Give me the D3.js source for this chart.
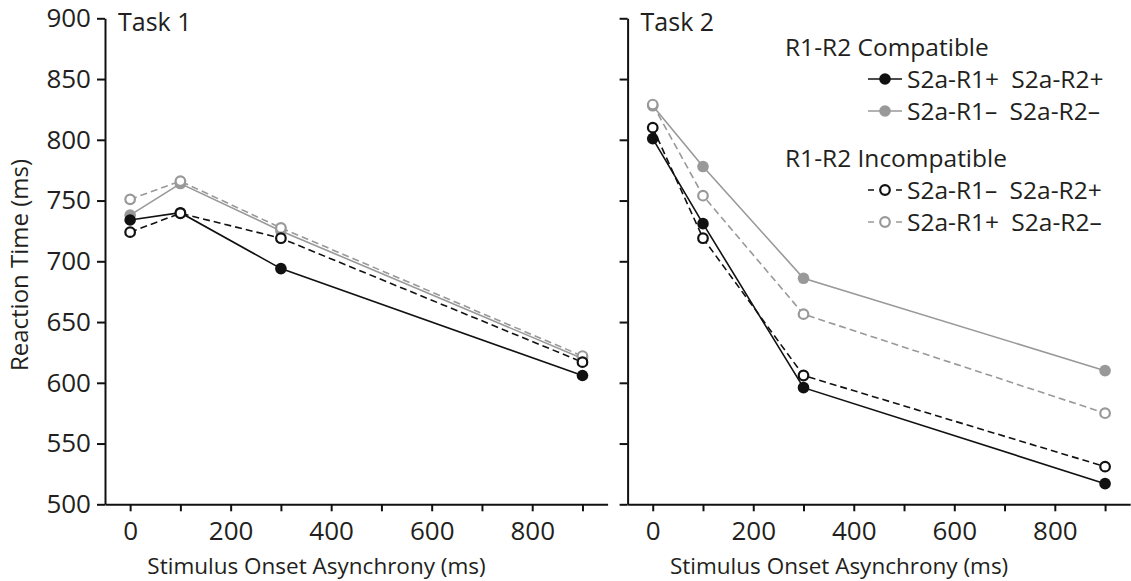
<!DOCTYPE html>
<html>
<head>
<meta charset="utf-8">
<script src="https://cdn.jsdelivr.net/npm/d3@7"></script>
<style>
  html, body { margin: 0; padding: 0; background: #fff; }
  svg { display: block; }
  text { font-family: "Open Sans", "Noto Sans", sans-serif; fill: #231f20; }
</style>
</head>
<body>
<svg id="chart" width="1131" height="581"></svg>
<script>
// Stimulus onset asynchronies (ms)
const soa = [0, 100, 300, 900];
const xTicks = [0, 100, 200, 300, 400, 500, 600, 700, 800, 900];
const xTickLabels = ["0", "", "200", "", "400", "", "600", "", "800", ""];
const yTicks = [500, 550, 600, 650, 700, 750, 800, 850, 900];

const panelTitles = ["Task 1", "Task 2"];

// Mean reaction times (ms), Task 1
const t1CompatPlus    = [734, 740, 694, 606];   // S2a-R1+ S2a-R2+
const t1CompatMinus   = [738, 764, 725, 620];   // S2a-R1- S2a-R2-
const t1IncompR1Minus = [724, 739.5, 719, 617]; // S2a-R1- S2a-R2+
const t1IncompR1Plus  = [751, 766, 727.5, 622]; // S2a-R1+ S2a-R2-

// Mean reaction times (ms), Task 2
const t2CompatPlus    = [801, 731, 596, 517];
const t2CompatMinus   = [828, 778, 686, 610];
const t2IncompR1Minus = [810, 719, 606, 531];
const t2IncompR1Plus  = [829, 754, 656.5, 575];

const seriesNames = ["S2a-R1+\u2002S2a-R2+", "S2a-R1\u2013\u2002S2a-R2\u2013",
                     "S2a-R1\u2013\u2002S2a-R2+", "S2a-R1+\u2002S2a-R2\u2013"];
const legendHeadings = ["R1-R2 Compatible", "R1-R2 Incompatible"];

const BLACK = "#111";
const GRAY = "#999";

// series style: colour, filled marker, dashed line
const styles = [
  { color: BLACK, filled: true,  dashed: false },
  { color: GRAY,  filled: true,  dashed: false },
  { color: BLACK, filled: false, dashed: true },
  { color: GRAY,  filled: false, dashed: true }
];

const panels = [
  { title: panelTitles[0], series: [t1CompatPlus, t1CompatMinus, t1IncompR1Minus, t1IncompR1Plus], left: 105, labels: true },
  { title: panelTitles[1], series: [t2CompatPlus, t2CompatMinus, t2IncompR1Minus, t2IncompR1Plus], left: 627.6, labels: false }
];

const svg = d3.select("#chart");
const plotTop = 18.3, plotBottom = 504.3, panelWidth = 502.6;

const y = d3.scaleLinear().domain([500, 900]).range([plotBottom, plotTop]);

// draw order: filled markers first, open markers on top
const drawOrder = [1, 0, 3, 2];

panels.forEach(p => {
  const x = d3.scaleLinear().domain([-50, 950]).range([p.left, p.left + panelWidth]);
  const g = svg.append("g");

  // y axis
  const yAxis = d3.axisLeft(y).tickValues(yTicks).tickSize(8).tickSizeOuter(0)
    .tickFormat(p.labels ? d3.format("d") : () => "").tickPadding(6);
  const ya = g.append("g").attr("transform", `translate(${p.left},0)`).call(yAxis);

  // x axis
  const xAxis = d3.axisBottom(x).tickValues(xTicks).tickSize(7).tickSizeOuter(0)
    .tickFormat((d, i) => xTickLabels[i]).tickPadding(10);
  const xa = g.append("g").attr("transform", `translate(0,${plotBottom})`).call(xAxis);

  [ya, xa].forEach(a => {
    a.selectAll("path.domain").attr("stroke", BLACK).attr("stroke-width", 2);
    a.selectAll(".tick line").attr("stroke", BLACK).attr("stroke-width", 2);
    a.selectAll(".tick text").style("font-size", "26px").attr("fill", "#231f20")
      .style("font-family", "'Open Sans', sans-serif");
  });

  // panel title
  g.append("text").attr("x", p.left + 13).attr("y", 31)
    .style("font-size", "25px").text(p.title);

  // x axis title
  g.append("text").attr("x", p.left + 211.5).attr("y", 574)
    .attr("text-anchor", "middle").style("font-size", "22.5px")
    .text("Stimulus Onset Asynchrony (ms)");

  const line = d3.line().x((d, i) => x(soa[i])).y(d => y(d));

  drawOrder.forEach(si => {
    const s = styles[si];
    const vals = p.series[si];
    g.append("path").datum(vals)
      .attr("d", line).attr("fill", "none")
      .attr("stroke", s.color).attr("stroke-width", 1.6)
      .attr("stroke-dasharray", s.dashed ? "7,4" : null);
  });
  drawOrder.forEach(si => {
    const s = styles[si];
    const vals = p.series[si];
    g.selectAll(null).data(vals).enter().append("circle")
      .attr("cx", (d, i) => x(soa[i])).attr("cy", d => y(d))
      .attr("r", s.filled ? 5.8 : 4.8)
      .attr("fill", s.filled ? s.color : "#fff")
      .attr("stroke", s.color).attr("stroke-width", s.filled ? 0 : 2.2);
  });
});

// y axis title
svg.append("text")
  .attr("transform", "translate(28,265) rotate(-90)")
  .attr("text-anchor", "middle").style("font-size", "24px")
  .text("Reaction Time (ms)");

// legend
const legend = svg.append("g");
const rowY = [79, 111, 190, 222];
const headY = [47, 158];
legendHeadings.forEach((h, i) => {
  legend.append("text").attr("x", 785).attr("y", headY[i]).attr("dy", "0.36em")
    .style("font-size", "24.5px").text(h);
});
styles.forEach((s, i) => {
  const r = legend.append("g").attr("transform", `translate(0,${rowY[i]})`);
  r.append("line").attr("x1", 868).attr("x2", 902).attr("y1", 0).attr("y2", 0)
    .attr("stroke", s.color).attr("stroke-width", 1.6)
    .attr("stroke-dasharray", s.dashed ? "6,22,6" : null);
  r.append("circle").attr("cx", 885).attr("cy", 0)
    .attr("r", s.filled ? 5.8 : 4.8)
    .attr("fill", s.filled ? s.color : "#fff")
    .attr("stroke", s.color).attr("stroke-width", s.filled ? 0 : 2.2);
  r.append("text").attr("x", 907).attr("y", 0).attr("dy", "0.36em")
    .style("font-size", "24.5px").text(seriesNames[i]);
});
</script>
</body>
</html>
